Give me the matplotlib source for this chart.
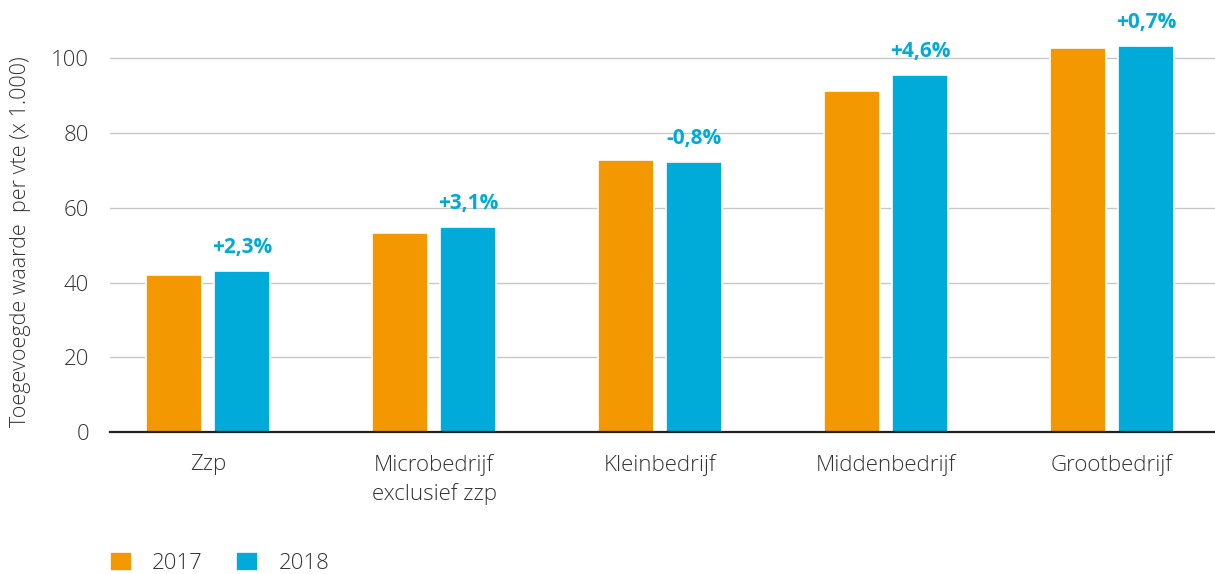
import matplotlib as mpl
from matplotlib import pyplot as plt
import numpy as np

# data
categories = ['Zzp', 'Microbedrijf\nexclusief zzp', 'Kleinbedrijf', 'Middenbedrijf', 'Grootbedrijf']
values_2017 = [42.1, 53.2, 72.8, 91.3, 102.7]
values_2018 = [43.1, 54.8, 72.3, 95.6, 103.4]
changes = ['+2,3%', '+3,1%', '-0,8%', '+4,6%', '+0,7%']

orange = '#F39800'
blue = '#00ABD9'
text_col = '#333333'

plt.rcParams['font.family'] = ['Open Sans', 'DejaVu Sans']

fig = plt.figure(figsize=(12.15, 5.74), dpi=100)
ax = fig.add_axes([0.0905, 0.2474, 0.9095, 0.7526])

x = np.arange(len(categories))
w = 0.245
b1 = ax.bar(x - 0.151, values_2017, w, color=orange, edgecolor='white', linewidth=1.2, zorder=3, label='2017')
b2 = ax.bar(x + 0.151, values_2018, w, color=blue, edgecolor='white', linewidth=1.2, zorder=3, label='2018')

for xi, v, lab in zip(x + 0.151, values_2018, changes):
    ax.text(xi, v + 3.5, lab, ha='center', va='bottom', color=blue,
            fontsize=15, fontweight='bold')

ax.set_xlim(-0.434, 4.456)
ax.set_ylim(0, 115.6)
ax.set_yticks([0, 20, 40, 60, 80, 100])
ax.set_xticks(x)
ax.set_xticklabels(categories, linespacing=1.4)
ax.tick_params(axis='both', length=0, labelsize=16, colors=text_col)
ax.tick_params(axis='x', pad=16)
ax.tick_params(axis='y', pad=15)
for t in ax.get_xticklabels() + ax.get_yticklabels():
    t.set_fontweight('light')
ax.grid(axis='y', color='#c8c8c8', linewidth=1.0, zorder=0)
ax.set_axisbelow(True)
for s in ['top', 'right', 'left']:
    ax.spines[s].set_visible(False)
ax.spines['bottom'].set_color('#222222')
ax.spines['bottom'].set_linewidth(1.6)
ax.spines['bottom'].set_zorder(4)

ax.set_ylabel('Toegevoegde waarde  per vte (x 1.000)', fontsize=15.5, color=text_col,
              fontweight='light')
ax.yaxis.set_label_coords(-0.071, 0.44)

leg = fig.legend(handles=[b1, b2], loc='lower left', bbox_to_anchor=(0.074, -0.035), ncol=2,
                 frameon=False, fontsize=16, handlelength=1.0, handleheight=1.0,
                 columnspacing=1.5, handletextpad=0.9, labelcolor=text_col)
for t in leg.get_texts():
    t.set_fontweight('light')

fig.savefig('out.png', dpi=100)
